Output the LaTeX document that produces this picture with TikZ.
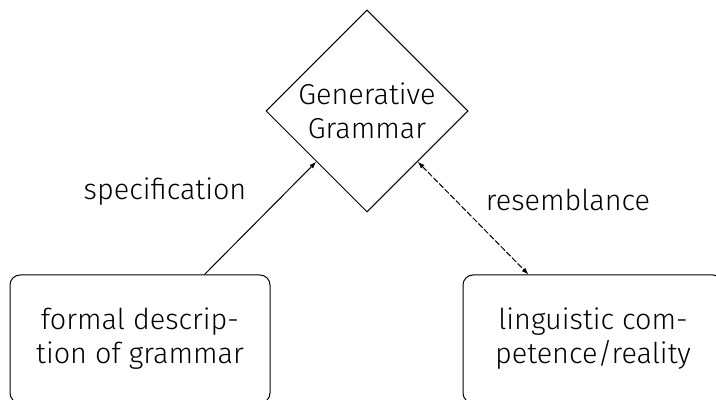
\documentclass[tikz,border=0pt]{standalone}
\usepackage{fontspec}
\setmainfont{Fira Sans Light}
\usetikzlibrary{shapes.geometric,arrows.meta}
\tikzset{
  concept/.style={draw, line width=0.5pt, rounded corners=5pt,
    minimum width=130pt, minimum height=64pt, align=center},
  grammar/.style={draw, diamond, line width=0.5pt, inner sep=0pt,
    minimum width=101pt, minimum height=101pt},
  link/.style={line width=0.5pt, -{Latex[length=3.5pt,width=2.5pt]}},
}
\begin{document}
\begin{tikzpicture}[x=0.5pt,y=0.5pt,font=\fontsize{14.4}{17}\selectfont]
  \useasboundingbox (0,0) rectangle (716,400);
  \clip (0,0) rectangle (716,400);
  \node[grammar, label={[align=center]center:Generative\\Grammar}] (gg) at (367,289) {};
  \node[concept] (fd) at (140,61) {formal descrip-\\tion of grammar};
  \node[concept] (lc) at (593,61) {linguistic com-\\petence/reality};
  \node (spec) at (165,208) {specification};
  \node (res) at (568,200) {resemblance};
  \begin{scope}[link]
    \draw (fd.45) to (gg.south west);
    \draw[{Latex[length=3.5pt,width=2.5pt]}-{Latex[length=3.5pt,width=2.5pt]}, dash pattern=on 3pt off 1pt] (gg.south east) to (lc.135);
  \end{scope}
\end{tikzpicture}
\end{document}
